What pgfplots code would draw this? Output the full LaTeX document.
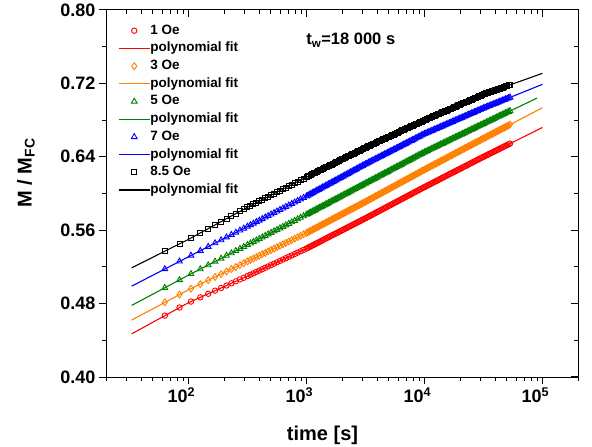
\documentclass[border=0pt]{standalone}
\usepackage{fontspec}
\setmainfont{Liberation Sans}
\usepackage{pgfplots}
\usepackage{pgfplotstable}
\pgfplotsset{compat=1.18}

\definecolor{cred}{RGB}{255,0,0}
\definecolor{corange}{RGB}{255,128,0}
\definecolor{cgreen}{RGB}{0,128,0}
\definecolor{cblue}{RGB}{0,0,255}

% measured relaxation, columns: time, 1 Oe, 3 Oe, 5 Oe, 7 Oe, 8.5 Oe
\pgfplotstableread{
t r o g b k
63 0.4669 0.4813 0.4973 0.5177 0.5371
84 0.4757 0.4898 0.5058 0.5260 0.5451
105 0.4822 0.4963 0.5124 0.5324 0.5515
126 0.4868 0.5012 0.5176 0.5376 0.5570
147 0.4907 0.5054 0.5220 0.5420 0.5617
168 0.4941 0.5090 0.5259 0.5459 0.5658
189 0.4970 0.5121 0.5292 0.5492 0.5693
210 0.4997 0.5150 0.5323 0.5523 0.5725
231 0.5021 0.5176 0.5350 0.5550 0.5755
252 0.5043 0.5199 0.5375 0.5575 0.5781
273 0.5063 0.5220 0.5398 0.5598 0.5805
294 0.5081 0.5240 0.5419 0.5619 0.5828
316 0.5100 0.5260 0.5440 0.5640 0.5850
335 0.5115 0.5276 0.5457 0.5657 0.5867
355 0.5130 0.5291 0.5473 0.5673 0.5883
376 0.5145 0.5307 0.5490 0.5690 0.5900
398 0.5160 0.5322 0.5506 0.5706 0.5916
422 0.5175 0.5338 0.5523 0.5723 0.5933
447 0.5190 0.5353 0.5540 0.5740 0.5950
473 0.5205 0.5369 0.5556 0.5756 0.5966
501 0.5220 0.5384 0.5573 0.5773 0.5983
531 0.5235 0.5400 0.5589 0.5789 0.5999
562 0.5250 0.5415 0.5605 0.5805 0.6015
596 0.5265 0.5431 0.5622 0.5822 0.6032
631 0.5280 0.5446 0.5638 0.5838 0.6048
668 0.5295 0.5462 0.5655 0.5855 0.6065
708 0.5310 0.5477 0.5671 0.5871 0.6081
750 0.5325 0.5493 0.5688 0.5888 0.6098
794 0.5340 0.5508 0.5704 0.5904 0.6114
841 0.5355 0.5524 0.5721 0.5921 0.6131
891 0.5370 0.5539 0.5737 0.5937 0.6147
944 0.5385 0.5555 0.5754 0.5954 0.6164
1000 0.5400 0.5570 0.5770 0.5970 0.6180
1059 0.5417 0.5587 0.5787 0.5988 0.6196
1122 0.5433 0.5604 0.5804 0.6005 0.6212
1189 0.5450 0.5621 0.5821 0.6023 0.6228
1259 0.5466 0.5638 0.5838 0.6040 0.6244
1334 0.5483 0.5655 0.5855 0.6058 0.6260
1413 0.5500 0.5672 0.5872 0.6075 0.6276
1496 0.5516 0.5689 0.5889 0.6093 0.6292
1585 0.5533 0.5706 0.5906 0.6110 0.6308
1679 0.5549 0.5723 0.5923 0.6128 0.6324
1778 0.5565 0.5740 0.5940 0.6145 0.6340
1884 0.5582 0.5757 0.5957 0.6163 0.6356
1995 0.5598 0.5774 0.5974 0.6180 0.6372
2113 0.5615 0.5791 0.5991 0.6198 0.6388
2239 0.5631 0.5808 0.6008 0.6215 0.6404
2371 0.5648 0.5825 0.6025 0.6233 0.6420
2512 0.5664 0.5842 0.6042 0.6250 0.6436
2661 0.5681 0.5859 0.6059 0.6268 0.6452
2818 0.5697 0.5876 0.6076 0.6285 0.6468
2985 0.5714 0.5893 0.6093 0.6303 0.6484
3162 0.5730 0.5910 0.6110 0.6320 0.6500
3350 0.5747 0.5928 0.6127 0.6337 0.6515
3548 0.5764 0.5945 0.6144 0.6353 0.6530
3758 0.5781 0.5963 0.6161 0.6370 0.6545
3981 0.5798 0.5980 0.6178 0.6386 0.6560
4217 0.5815 0.5998 0.6195 0.6403 0.6575
4467 0.5832 0.6015 0.6212 0.6420 0.6590
4732 0.5849 0.6033 0.6229 0.6436 0.6605
5012 0.5866 0.6050 0.6246 0.6453 0.6620
5309 0.5883 0.6068 0.6263 0.6469 0.6635
5623 0.5900 0.6085 0.6280 0.6485 0.6650
5957 0.5917 0.6103 0.6297 0.6502 0.6665
6310 0.5934 0.6120 0.6314 0.6518 0.6680
6683 0.5951 0.6138 0.6331 0.6535 0.6695
7079 0.5968 0.6155 0.6348 0.6551 0.6710
7499 0.5985 0.6173 0.6365 0.6568 0.6725
7943 0.6002 0.6190 0.6382 0.6584 0.6740
8414 0.6019 0.6208 0.6399 0.6601 0.6755
8913 0.6036 0.6225 0.6416 0.6617 0.6770
9441 0.6053 0.6243 0.6433 0.6634 0.6785
10000 0.6070 0.6260 0.6450 0.6650 0.6800
10593 0.6087 0.6277 0.6466 0.6664 0.6814
11220 0.6103 0.6294 0.6481 0.6678 0.6828
11885 0.6120 0.6311 0.6497 0.6692 0.6842
12589 0.6136 0.6328 0.6512 0.6706 0.6856
13335 0.6153 0.6345 0.6528 0.6720 0.6870
14125 0.6170 0.6362 0.6543 0.6734 0.6884
14962 0.6186 0.6379 0.6559 0.6748 0.6898
15849 0.6203 0.6396 0.6574 0.6762 0.6912
16788 0.6219 0.6413 0.6590 0.6776 0.6926
17783 0.6235 0.6430 0.6605 0.6790 0.6940
18836 0.6252 0.6447 0.6621 0.6804 0.6954
19953 0.6268 0.6464 0.6636 0.6818 0.6968
21135 0.6285 0.6481 0.6652 0.6832 0.6982
22387 0.6301 0.6498 0.6667 0.6846 0.6996
23714 0.6318 0.6515 0.6683 0.6860 0.7010
25119 0.6334 0.6532 0.6698 0.6874 0.7024
26607 0.6351 0.6549 0.6714 0.6888 0.7038
28184 0.6367 0.6566 0.6729 0.6902 0.7052
29854 0.6384 0.6583 0.6745 0.6916 0.7066
31623 0.6400 0.6600 0.6760 0.6930 0.7080
33497 0.6416 0.6617 0.6776 0.6943 0.7092
35481 0.6432 0.6634 0.6791 0.6956 0.7103
37584 0.6448 0.6650 0.6807 0.6969 0.7115
39811 0.6464 0.6667 0.6822 0.6982 0.7126
42170 0.6480 0.6684 0.6838 0.6995 0.7138
44668 0.6496 0.6701 0.6853 0.7008 0.7149
47315 0.6512 0.6717 0.6869 0.7021 0.7161
50119 0.6528 0.6734 0.6884 0.7034 0.7172
53088 0.6544 0.6751 0.6900 0.7047 0.7184
1029 0.5408 0.5579 0.5779 0.5979 0.6188
1090 0.5425 0.5596 0.5796 0.5997 0.6204
1155 0.5441 0.5613 0.5813 0.6014 0.6220
1223 0.5458 0.5630 0.5830 0.6032 0.6236
1296 0.5474 0.5647 0.5847 0.6049 0.6252
1372 0.5491 0.5664 0.5864 0.6067 0.6268
1454 0.5508 0.5681 0.5881 0.6084 0.6284
1540 0.5524 0.5698 0.5898 0.6102 0.6300
1631 0.5541 0.5715 0.5915 0.6119 0.6316
1728 0.5557 0.5732 0.5932 0.6137 0.6332
1830 0.5573 0.5749 0.5949 0.6154 0.6348
1939 0.5590 0.5766 0.5966 0.6172 0.6364
2054 0.5606 0.5783 0.5983 0.6189 0.6380
2175 0.5623 0.5800 0.6000 0.6207 0.6396
2304 0.5639 0.5817 0.6017 0.6224 0.6412
2441 0.5656 0.5834 0.6034 0.6242 0.6428
2585 0.5672 0.5851 0.6051 0.6259 0.6444
2739 0.5689 0.5868 0.6068 0.6277 0.6460
2901 0.5705 0.5885 0.6085 0.6294 0.6476
3073 0.5722 0.5902 0.6102 0.6312 0.6492
3255 0.5739 0.5919 0.6119 0.6328 0.6508
3448 0.5756 0.5937 0.6136 0.6345 0.6523
3652 0.5773 0.5954 0.6153 0.6361 0.6538
3868 0.5790 0.5972 0.6170 0.6378 0.6553
4097 0.5807 0.5989 0.6187 0.6394 0.6568
4340 0.5824 0.6007 0.6204 0.6411 0.6583
4597 0.5841 0.6024 0.6221 0.6428 0.6598
4870 0.5858 0.6042 0.6238 0.6444 0.6613
5158 0.5875 0.6059 0.6255 0.6461 0.6628
5464 0.5892 0.6077 0.6272 0.6477 0.6643
5788 0.5909 0.6094 0.6289 0.6493 0.6658
6131 0.5926 0.6112 0.6306 0.6510 0.6673
6494 0.5943 0.6129 0.6323 0.6526 0.6688
6879 0.5960 0.6147 0.6340 0.6543 0.6703
7286 0.5977 0.6164 0.6357 0.6559 0.6718
7718 0.5994 0.6182 0.6374 0.6576 0.6733
8175 0.6011 0.6199 0.6391 0.6592 0.6748
8660 0.6028 0.6217 0.6408 0.6609 0.6763
9173 0.6045 0.6234 0.6425 0.6625 0.6778
9717 0.6062 0.6252 0.6442 0.6642 0.6793
10292 0.6078 0.6269 0.6458 0.6657 0.6807
10902 0.6095 0.6286 0.6474 0.6671 0.6821
11548 0.6111 0.6303 0.6489 0.6685 0.6835
12232 0.6128 0.6320 0.6505 0.6699 0.6849
12957 0.6144 0.6337 0.6520 0.6713 0.6863
13725 0.6161 0.6354 0.6536 0.6727 0.6877
14538 0.6178 0.6371 0.6551 0.6741 0.6891
15399 0.6194 0.6388 0.6567 0.6755 0.6905
16312 0.6211 0.6405 0.6582 0.6769 0.6919
17278 0.6227 0.6422 0.6598 0.6783 0.6933
18302 0.6243 0.6439 0.6613 0.6797 0.6947
19386 0.6260 0.6456 0.6629 0.6811 0.6961
20535 0.6276 0.6473 0.6644 0.6825 0.6975
21752 0.6293 0.6490 0.6660 0.6839 0.6989
23041 0.6309 0.6507 0.6675 0.6853 0.7003
24406 0.6326 0.6524 0.6691 0.6867 0.7017
25852 0.6342 0.6541 0.6706 0.6881 0.7031
27384 0.6359 0.6558 0.6722 0.6895 0.7045
29007 0.6375 0.6575 0.6737 0.6909 0.7059
30726 0.6392 0.6592 0.6753 0.6923 0.7073
32546 0.6408 0.6608 0.6768 0.6937 0.7086
34475 0.6424 0.6625 0.6784 0.6950 0.7098
36517 0.6440 0.6642 0.6799 0.6963 0.7109
38681 0.6456 0.6658 0.6815 0.6976 0.7121
40973 0.6472 0.6675 0.6830 0.6989 0.7132
43401 0.6488 0.6692 0.6846 0.7002 0.7144
45972 0.6504 0.6709 0.6861 0.7015 0.7155
48697 0.6520 0.6725 0.6877 0.7028 0.7167
51582 0.6536 0.6742 0.6892 0.7041 0.7178
}\meas

% polynomial fits
\pgfplotstableread{
t r o b k
33 0.447 0.462 0.499 0.519
100 0.481 0.495 0.531 0.550
316 0.510 0.526 0.564 0.585
1000 0.540 0.557 0.597 0.618
3162 0.573 0.591 0.632 0.650
10000 0.607 0.626 0.665 0.680
31623 0.640 0.660 0.693 0.708
100000 0.672 0.6935 0.719 0.731
}\fits

\pgfplotstableread{
t g
33 0.478
100 0.511
316 0.544
1000 0.577
3162 0.611
10000 0.645
31623 0.676
90000 0.704
}\fitg

\begin{document}
\begin{tikzpicture}
\path[use as bounding box] (-106pt,-70pt) rectangle (486pt,377pt);

% ticks pointing inwards on top and right
\begin{axis}[
  at={(0,0)}, anchor=south west,
  scale only axis, width=472pt, height=367pt,
  xmode=log, xmin=20, xmax=200000,
  ymin=0.40, ymax=0.80,
  xtick={100,1000,10000,100000},
  minor xtick={20,30,40,50,60,70,80,90,200,300,400,500,600,700,800,900,
    2000,3000,4000,5000,6000,7000,8000,9000,20000,30000,40000,50000,
    60000,70000,80000,90000,200000},
  ytick={0.40,0.48,0.56,0.64,0.72,0.80},
  minor ytick={0.44,0.52,0.60,0.68,0.76},
  major tick length=7pt, minor tick length=4pt,
  tick style={black, line width=1pt},
  tick pos=right, tick align=inside,
  xticklabels={}, yticklabels={}, axis line style={draw=none}]
\addplot [draw=none] coordinates {(100,0.5)};
\end{axis}

\begin{axis}[
  at={(0,0)}, anchor=south west,
  scale only axis, width=472pt, height=367pt,
  xmode=log, xmin=20, xmax=200000,
  ymin=0.40, ymax=0.80,
  xtick={100,1000,10000,100000},
  minor xtick={20,30,40,50,60,70,80,90,200,300,400,500,600,700,800,900,
    2000,3000,4000,5000,6000,7000,8000,9000,20000,30000,40000,50000,
    60000,70000,80000,90000,200000},
  ytick={0.40,0.48,0.56,0.64,0.72,0.80},
  minor ytick={0.44,0.52,0.60,0.68,0.76},
  major tick length=7pt, minor tick length=4pt,
  tick style={black, line width=1pt},
  tick pos=left, tick align=outside,
  axis line style={line width=1pt},
  /pgf/number format/assume math mode=true,
  tick label style={font=\bfseries\fontsize{18}{20}\selectfont},
  yticklabel style={/pgf/number format/.cd, fixed, fixed zerofill, precision=2},
  xticklabels={10\textsuperscript{2},10\textsuperscript{3},10\textsuperscript{4},10\textsuperscript{5}},
  xticklabel style={xshift=-7pt},
  xlabel={time [s]},
  ylabel={M / M\textsubscript{FC}},
  label style={font=\bfseries\fontsize{20}{22}\selectfont},
  xlabel style={at={(axis description cs:0.4587,-0.158)}, anchor=center},
  ylabel style={at={(axis description cs:-0.1695,0.556)}, anchor=center},
  legend cell align=left,
  legend image code/.code={\draw[#1] (0pt,0pt) -- (31pt,0pt);},
  legend style={draw=none, fill=none, at={(axis description cs:0,1)},
    anchor=north west, xshift=12pt, yshift=-14pt,
    inner xsep=0pt, inner ysep=0pt, row sep=4.7pt,
    nodes={inner sep=0pt, text height=10pt, text depth=3pt},
    font=\bfseries\fontsize{13.5}{16}\selectfont,
    /tikz/every even column/.append style={column sep=5pt}},
  sc/.style={only marks, mark options={solid, line width=0.9pt},
    legend image code/.code={\draw[mark repeat=2,mark phase=2,##1]
      plot coordinates {(0pt,0pt) (15.5pt,0pt) (31pt,0pt)};}},
  fit/.style={line width=1.1pt},
]
\addplot [sc, cred, mark=o, mark size=2.7pt] table [x=t, y=r] {\meas};
\addlegendentry{1 Oe}
\addplot [fit, cred] table [x=t, y=r] {\fits};
\addlegendentry{polynomial fit}
\addplot [sc, corange, mark=diamond, mark size=3.4pt] table [x=t, y=o] {\meas};
\addlegendentry{3 Oe}
\addplot [fit, corange] table [x=t, y=o] {\fits};
\addlegendentry{polynomial fit}
\addplot [sc, cgreen, mark=triangle, mark size=3.3pt] table [x=t, y=g] {\meas};
\addlegendentry{5 Oe}
\addplot [fit, cgreen] table [x=t, y=g] {\fitg};
\addlegendentry{polynomial fit}
\addplot [sc, cblue, mark=triangle, mark size=3.3pt] table [x=t, y=b] {\meas};
\addlegendentry{7 Oe}
\addplot [fit, cblue] table [x=t, y=b] {\fits};
\addlegendentry{polynomial fit}
\addplot [sc, black, mark=square, mark size=2.5pt] table [x=t, y=k] {\meas};
\addlegendentry{8.5 Oe}
\addplot [fit, black] table [x=t, y=k] {\fits};
\addlegendentry{polynomial fit}

\node[anchor=base west, font=\bfseries\fontsize{16.5}{18}\selectfont]
  at (rel axis cs:0.417,0.905) {t\textsubscript{w}=18 000 s};
\end{axis}
\end{tikzpicture}
\end{document}
